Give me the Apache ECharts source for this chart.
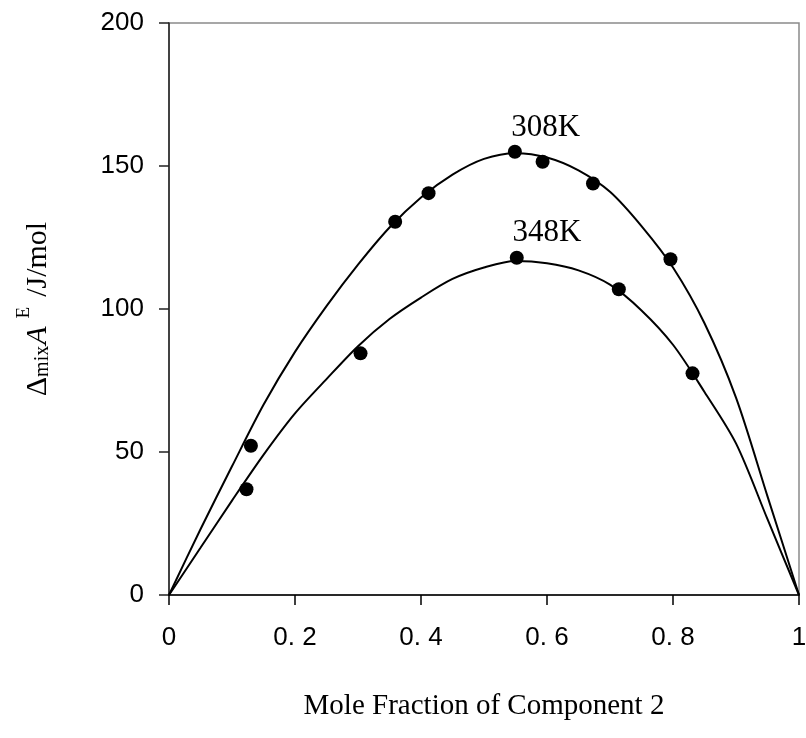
<!DOCTYPE html>
<html>
<head>
<meta charset="utf-8">
<script src="https://cdn.jsdelivr.net/npm/echarts@6/dist/echarts.min.js"></script>
<style>
  html, body { margin: 0; padding: 0; background: #fff; }
  #main { width: 806px; height: 738px; }
</style>
</head>
<body>
<div id="main"></div>
<script>
// fitted curves
var curveX = [0, 0.05, 0.1, 0.15, 0.2, 0.25, 0.3, 0.35, 0.4, 0.45, 0.5, 0.55, 0.6, 0.65, 0.7, 0.75, 0.8, 0.85, 0.9, 0.95, 1];
var curve308 = [0, 23, 45, 66.5, 85, 101, 115.5, 128.5, 139, 147, 152.5, 154.5, 153, 148.5, 141, 129, 114.5, 95, 69, 34.5, 0];
var curve348 = [0, 16.5, 33, 49, 63.5, 75.5, 87, 96.5, 104, 110.5, 114.5, 116.8, 116, 113.5, 108.5, 99.5, 87.5, 71, 53, 26.5, 0];

// measured points
var pts308X = [0.130, 0.359, 0.412, 0.549, 0.593, 0.673, 0.796];
var pts308Y = [52.2, 130.5, 140.5, 155.0, 151.5, 143.9, 117.4];
var pts348X = [0.123, 0.304, 0.552, 0.714, 0.831];
var pts348Y = [37.0, 84.5, 117.9, 106.9, 77.5];

// curve labels
var tempNames = ['308K', '348K'];
var tempLabelX = [0.598, 0.600];
var tempLabelY = [163.5, 126.5];

var xTickLabels = ['0', '0. 2', '0. 4', '0. 6', '0. 8', '1'];
var yTickLabels = ['0', '50', '100', '150', '200'];

function zip(xs, ys) {
    return xs.map(function (x, i) { return [x, ys[i]]; });
}

var myChart = echarts.init(document.getElementById('main'));
var serif = '"Liberation Serif", "Times New Roman", serif';
var sans = '"Liberation Sans", Arial, sans-serif';

var option = {
    animation: false,
    grid: {
        left: 169, right: 7, top: 23, bottom: 143,
        containLabel: false,
        outerBoundsMode: 'none',
        show: true,
        borderColor: '#8a8a8a',
        borderWidth: 1.5
    },
    xAxis: {
        type: 'value', min: 0, max: 1, interval: 0.2,
        splitLine: { show: false },
        axisLine: { lineStyle: { color: '#000', width: 1.5 } },
        axisTick: { inside: false, length: 10, lineStyle: { color: '#000', width: 1.5 } },
        axisLabel: {
            margin: 30, color: '#000', fontSize: 26, fontFamily: sans,
            formatter: function (v) { return xTickLabels[Math.round(v / 0.2)]; }
        },
        name: 'Mole Fraction of Component 2',
        nameLocation: 'middle',
        nameGap: 97,
        nameTextStyle: { color: '#000', fontSize: 29, fontFamily: serif }
    },
    yAxis: {
        type: 'value', min: 0, max: 200, interval: 50,
        splitLine: { show: false },
        axisLine: { lineStyle: { color: '#222', width: 1.5 } },
        axisTick: { inside: false, length: 10, lineStyle: { color: '#222', width: 1.5 } },
        axisLabel: {
            margin: 25, color: '#000', fontSize: 26, fontFamily: sans,
            formatter: function (v) { return yTickLabels[Math.round(v / 50)]; }
        },
        name: '{d|Δ}{s|mix}{a|A}{e|E}{n|/J/mol}',
        nameLocation: 'middle',
        nameRotate: 90,
        nameGap: 116,
        nameTextStyle: {
            color: '#000', fontFamily: serif, fontSize: 30, lineHeight: 38,
            rich: {
                d: { fontSize: 30, fontFamily: serif, verticalAlign: 'bottom', lineHeight: 38 },
                s: { fontSize: 20, fontFamily: serif, verticalAlign: 'bottom', lineHeight: 38, padding: [0, 1, 0, 0] },
                a: { fontSize: 30, fontFamily: serif, fontStyle: 'italic', verticalAlign: 'bottom', lineHeight: 38 },
                e: { fontSize: 19, fontFamily: serif, verticalAlign: 'top', lineHeight: 38, padding: [0, 10, 0, 8] },
                n: { fontSize: 30, fontFamily: serif, verticalAlign: 'bottom', lineHeight: 38 }
            }
        }
    },
    series: [
        {
            name: '308K fit', type: 'line', data: zip(curveX, curve308),
            smooth: 0.3, showSymbol: false,
            lineStyle: { color: '#000', width: 2 }
        },
        {
            name: '348K fit', type: 'line', data: zip(curveX, curve348),
            smooth: 0.3, showSymbol: false,
            lineStyle: { color: '#000', width: 2 }
        },
        {
            name: '308K', type: 'scatter', data: zip(pts308X, pts308Y),
            symbol: 'circle', symbolSize: 14, itemStyle: { color: '#000', opacity: 1 }
        },
        {
            name: '348K', type: 'scatter', data: zip(pts348X, pts348Y),
            symbol: 'circle', symbolSize: 14, itemStyle: { color: '#000', opacity: 1 }
        },
        {
            name: 'labels', type: 'scatter', symbolSize: 0, silent: true,
            itemStyle: { opacity: 1 },
            data: tempNames.map(function (n, i) {
                return { name: n, value: [tempLabelX[i], tempLabelY[i]] };
            }),
            label: {
                show: true, position: 'inside', formatter: '{b}',
                color: '#000', fontSize: 31, fontFamily: serif
            }
        }
    ]
};
myChart.setOption(option);
</script>
</body>
</html>
